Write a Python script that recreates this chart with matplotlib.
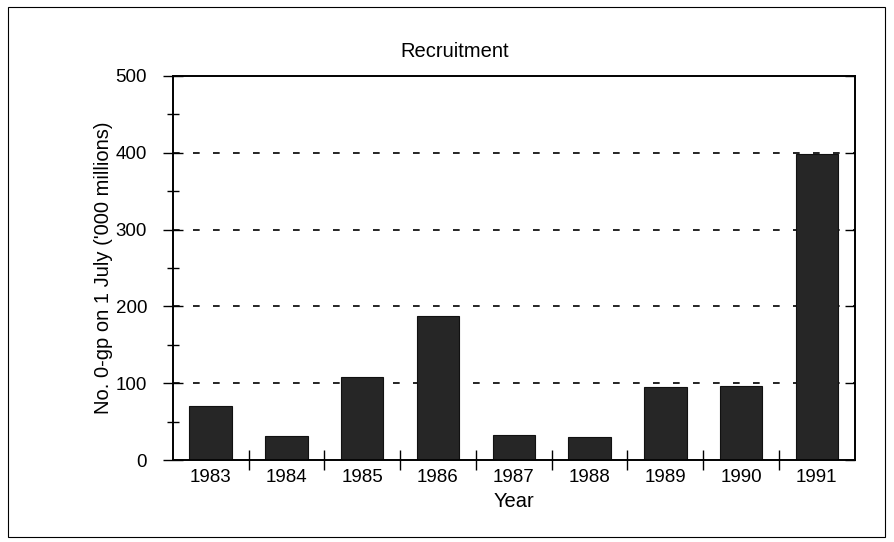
import matplotlib
matplotlib.use("Agg")
import matplotlib.pyplot as plt
from matplotlib.patches import Rectangle
import numpy as np

years = ["1983", "1984", "1985", "1986", "1987", "1988", "1989", "1990", "1991"]
recruitment = [70, 31, 108, 188, 33, 30, 95, 97, 399]

plt.rcParams['font.family'] = ['Liberation Sans', 'DejaVu Sans']

fig = plt.figure(figsize=(8.95, 5.42), dpi=100)
fig.patches.append(Rectangle((0.009, 0.01), 0.98, 0.978, transform=fig.transFigure,
                             fill=False, edgecolor='black', linewidth=0.8))
ax = fig.add_axes([0.193, 0.151, 0.762, 0.709])

x = np.arange(len(years))
ax.bar(x, recruitment, width=0.56, color='#262626', edgecolor='#111111', linewidth=0.8, zorder=3)

ax.set_xlim(-0.5, len(years) - 0.5)
ax.set_ylim(0, 500)
ax.set_xticks(x)
ax.set_xticklabels(years, fontsize=13.5)
ax.set_xticks(np.arange(0.5, len(years) - 0.5, 1), minor=True)
ax.tick_params(axis='x', which='major', length=0, pad=6.5)
ax.tick_params(axis='x', which='minor', direction='inout', length=14, width=1)

ax.set_yticks([0, 100, 200, 300, 400, 500])
ax.set_yticks([50, 150, 250, 350, 450], minor=True)
ax.tick_params(axis='y', which='major', direction='inout', length=15, width=1,
               labelsize=13.5, pad=11, right=False)
ax.tick_params(axis='y', which='minor', direction='inout', length=9, width=1, right=False)

ax2 = ax.twinx()
ax2.set_ylim(0, 500)
ax2.set_yticks([0, 100, 200, 300, 400, 500])
ax2.tick_params(axis='y', direction='in', length=7, width=1, labelright=False)
for s in ax2.spines.values():
    s.set_linewidth(1.2)

for v in [100, 200, 300, 400]:
    ax.axhline(v, color='black', linestyle=(0, (4, 8)), linewidth=1.2, zorder=2)

for s in ax.spines.values():
    s.set_linewidth(1.2)

fig.text(0.508, 0.905, "Recruitment", fontsize=14.5, ha='center', va='center')
ax.set_xlabel("Year", fontsize=14.5, labelpad=4)
ax.set_ylabel("No. 0-gp on 1 July ('000 millions)", fontsize=14.5, labelpad=2)

fig.savefig("out.png", dpi=100)
